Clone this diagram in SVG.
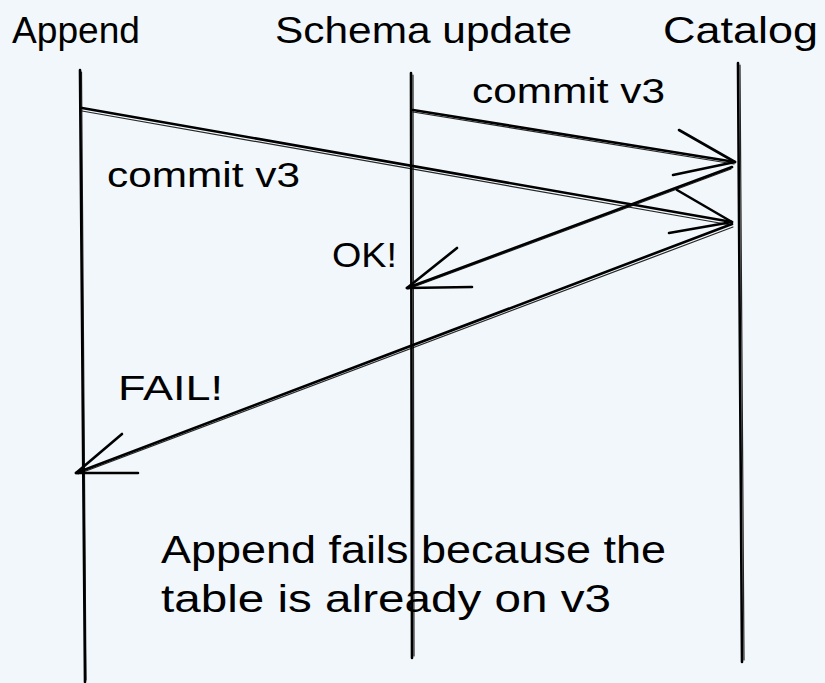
<svg xmlns="http://www.w3.org/2000/svg" width="825" height="683" viewBox="0 0 825 683">
<style>
.bg{fill:#f1f7fa}
.t{font-family:"Liberation Sans","DejaVu Sans",sans-serif;fill:#000}
.h{font-size:37px}
.l{font-size:35px}
.n{font-size:38px}
.ln{fill:none;stroke:#000;stroke-width:2.6;stroke-linecap:round;stroke-linejoin:round}
.ln2{fill:none;stroke:#000;stroke-width:1.2;stroke-linecap:round;opacity:0.85}
</style>
<rect class="bg" x="0" y="0" width="825" height="683"/>
<g id="append">
<text class="t h" x="12" y="43" textLength="128" lengthAdjust="spacingAndGlyphs">Append</text>
<path class="ln" d="M80 70 L85 682"/>
<path class="ln2" d="M81.5 72 L86 680"/>
</g>
<g id="schema-update">
<text class="t h" x="275" y="43" textLength="297" lengthAdjust="spacingAndGlyphs">Schema update</text>
<path class="ln" d="M411 73 L412 658"/>
<path class="ln2" d="M413 75 L414 656"/>
</g>
<g id="catalog">
<text class="t h" x="663" y="43" textLength="155" lengthAdjust="spacingAndGlyphs">Catalog</text>
<path class="ln" d="M738 63 L742 662"/>
<path class="ln2" d="M740 65 L744 660"/>
</g>
<g id="connectors">
<g id="append-commit">
<path class="ln" d="M82 108 L732 222"/>
<path class="ln2" d="M82 111 L731 225"/>
<path class="ln" d="M677 190 L732 222 L669 233"/>
</g>
<g id="schema-commit">
<path class="ln" d="M413 110 L735 162"/>
<path class="ln2" d="M413 112 L734 164"/>
<path class="ln" d="M679 130 L735 162 L673 175"/>
</g>
<g id="ok-reply">
<path class="ln" d="M732 167 L407 288"/>
<path class="ln2" d="M731 169 L408 289"/>
<path class="ln" d="M457 248 L407 288 L472 287"/>
</g>
<g id="fail-reply">
<path class="ln" d="M732 224 L76 473"/>
<path class="ln2" d="M733 227 L78 474"/>
<path class="ln" d="M122 434 L76 473 L138 473"/>
</g>
</g>
<g id="labels">
<text class="t l" x="472" y="103" textLength="193" lengthAdjust="spacingAndGlyphs">commit v3</text>
<text class="t l" x="107" y="187" textLength="193" lengthAdjust="spacingAndGlyphs">commit v3</text>
<text class="t l" x="332" y="267" textLength="65" lengthAdjust="spacingAndGlyphs">OK!</text>
<text class="t l" x="118" y="400" textLength="105" lengthAdjust="spacingAndGlyphs">FAIL!</text>
</g>
<g id="note">
<text class="t n" x="161" y="563" textLength="505" lengthAdjust="spacingAndGlyphs">Append fails because the</text>
<text class="t n" x="161" y="612" textLength="450" lengthAdjust="spacingAndGlyphs">table is already on v3</text>
</g>
</svg>
